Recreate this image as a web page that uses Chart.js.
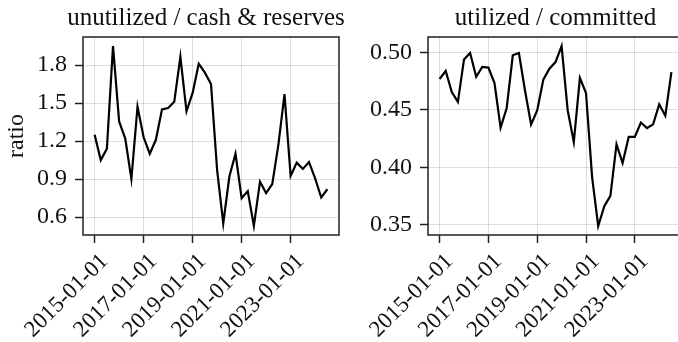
<!DOCTYPE html>
<html>
<head>
<meta charset="utf-8">
<script src="https://cdn.jsdelivr.net/npm/chart.js@4.4.1/dist/chart.umd.min.js"></script>
<style>
  html, body { margin: 0; padding: 0; background: #fff; overflow: hidden; }
  #wrap { position: relative; width: 678px; height: 342px; overflow: hidden; }
  canvas { position: absolute; top: 0; }
  #left-chart { left: 0; }
  #right-chart { left: 345px; }
</style>
</head>
<body>
<div id="wrap">
  <canvas id="left-chart" width="412" height="342"></canvas>
  <canvas id="right-chart" width="345" height="342"></canvas>
</div>
<script>
// quarterly observations
const quarters = [
  '2015-01', '2015-04', '2015-07', '2015-10',
  '2016-01', '2016-04', '2016-07', '2016-10',
  '2017-01', '2017-04', '2017-07', '2017-10',
  '2018-01', '2018-04', '2018-07', '2018-10',
  '2019-01', '2019-04', '2019-07', '2019-10',
  '2020-01', '2020-04', '2020-07', '2020-10',
  '2021-01', '2021-04', '2021-07', '2021-10',
  '2022-01', '2022-04', '2022-07', '2022-10',
  '2023-01', '2023-04', '2023-07', '2023-10',
  '2024-01', '2024-04', '2024-07'
];

const unutilizedRatio = [
  1.25, 1.05, 1.14, 1.95, 1.355, 1.22, 0.90, 1.47, 1.23, 1.10,
  1.21, 1.45, 1.46, 1.51, 1.865, 1.435, 1.58, 1.81, 1.74, 1.65,
  0.97, 0.55, 0.92, 1.10, 0.75, 0.805, 0.53, 0.88, 0.79, 0.86,
  1.17, 1.57, 0.925, 1.03, 0.98, 1.035, 0.905, 0.755, 0.82
];

const utilizedRatio = [
  0.477, 0.484, 0.4656, 0.457, 0.494, 0.4997, 0.479, 0.4875, 0.487, 0.4735,
  0.4345, 0.4517, 0.4977, 0.4997, 0.467, 0.4374, 0.4496, 0.4764, 0.486, 0.4918,
  0.5058, 0.4496, 0.422, 0.478, 0.4648, 0.3914, 0.3487, 0.366, 0.375, 0.42,
  0.4037, 0.4264, 0.4264, 0.439, 0.4342, 0.4374, 0.4549, 0.445, 0.4831
];

const xTickYears = [2015, 2017, 2019, 2021, 2023];
const leftYTicks = [0.6, 0.9, 1.2, 1.5, 1.8];
const rightYTicks = [0.35, 0.40, 0.45, 0.50];

const FONT = "'Liberation Serif', 'Times New Roman', serif";

function toYear(q) {
  const [y, m] = q.split('-').map(Number);
  return y + (m - 1) / 12;
}

// draws the full box round the plot area
const frameBox = {
  id: 'frameBox',
  afterDraw(chart) {
    const a = chart.chartArea, ctx = chart.ctx;
    ctx.save();
    ctx.strokeStyle = '#222';
    ctx.lineWidth = 1.5;
    ctx.strokeRect(a.left, a.top, a.right - a.left, a.bottom - a.top);
    ctx.restore();
  }
};

// spacer: empty right-hand axis of a given width. The left title is wider than
// its plot, so it spans the whole canvas and needs the canvas centred on the plot
function makeChart(id, values, title, yTicks, decimals, yMin, yMax, yTitle, padRight, spacer) {
  const points = quarters.map((q, i) => ({ x: toYear(q), y: values[i] }));
  const scales = {
    x: {
      type: 'linear',
      min: 2014.525,
      max: 2024.975,
      afterBuildTicks(scale) { scale.ticks = xTickYears.map(v => ({ value: v })); },
      afterFit(scale) { scale.height = 107; },
      border: { display: false },
      grid: { color: 'rgba(0,0,0,0.13)', lineWidth: 1, tickColor: '#222', tickLength: 8, tickWidth: 1.5 },
      ticks: {
        color: '#111',
        font: { family: FONT, size: 23 },
        minRotation: 45,
        maxRotation: 45,
        padding: 5,
        labelOffset: 10,
        callback: v => v + '-01-01'
      }
    },
    y: {
      min: yMin,
      max: yMax,
      afterBuildTicks(scale) { scale.ticks = yTicks.map(v => ({ value: v })); },
      afterFit(scale) { scale.width = 83; },
      border: { display: false },
      grid: { color: 'rgba(0,0,0,0.13)', lineWidth: 1, tickColor: '#222', tickLength: 8, tickWidth: 1.5 },
      title: {
        display: !!yTitle,
        text: yTitle,
        color: '#111',
        font: { family: FONT, size: 24 },
        padding: { top: 2, bottom: 0 }
      },
      ticks: {
        color: '#111',
        font: { family: FONT, size: 24 },
        padding: 8,
        callback: v => v.toFixed(decimals)
      }
    }
  };
  if (spacer) {
    scales.spacer = {
      type: 'linear',
      position: 'right',
      afterFit(scale) { scale.width = spacer; },
      border: { display: false },
      grid: { display: false },
      ticks: { display: false }
    };
  }
  return new Chart(document.getElementById(id), {
    type: 'line',
    data: {
      datasets: [{
        data: points,
        borderColor: '#000',
        borderWidth: 2.2,
        pointRadius: 0,
        tension: 0,
        fill: false
      }]
    },
    options: {
      responsive: false,
      animation: false,
      devicePixelRatio: 1,
      layout: { padding: { left: 0, right: padRight, top: 0, bottom: 0 } },
      plugins: {
        legend: { display: false },
        tooltip: { enabled: false },
        title: {
          display: true,
          text: title,
          fullSize: !!spacer,
          color: '#111',
          font: { family: FONT, size: 25, weight: 'normal', lineHeight: 1.2 },
          padding: { top: 3, bottom: 4 }
        }
      },
      scales: scales
    },
    plugins: [frameBox]
  });
}

makeChart('left-chart', unutilizedRatio, 'unutilized / cash & reserves', leftYTicks, 1, 0.459, 2.021, 'ratio', 0, 73);
makeChart('right-chart', utilizedRatio, 'utilized / committed', rightYTicks, 2, 0.3408, 0.5137, '', 7, 0);
</script>
</body>
</html>
